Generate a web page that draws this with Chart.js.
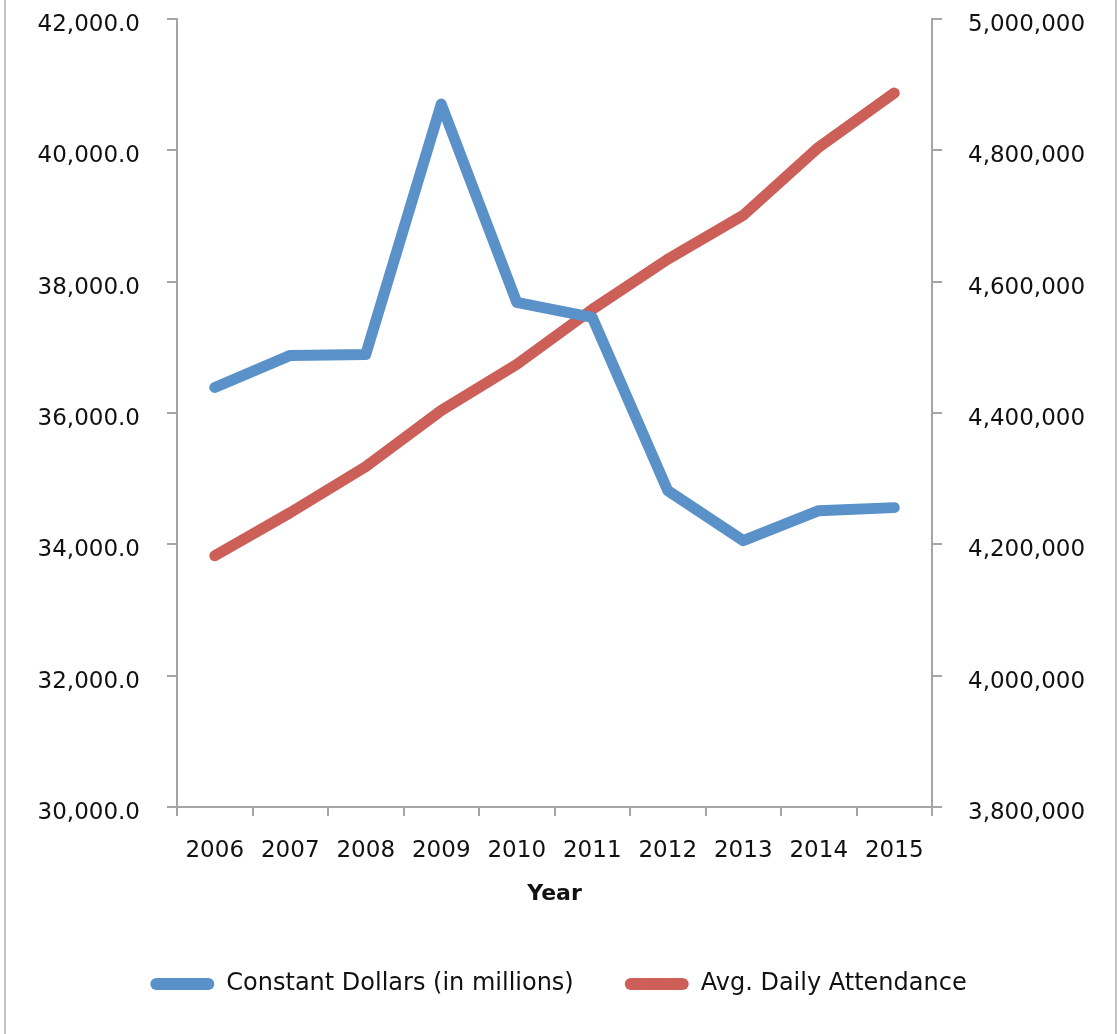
<!DOCTYPE html>
<html>
<head>
<meta charset="utf-8">
<script src="https://cdn.jsdelivr.net/npm/chart.js@4.4.1/dist/chart.umd.min.js"></script>
<style>
  html, body { margin: 0; padding: 0; background: #fff; overflow: hidden; }
  #wrap { position: relative; width: 1117px; height: 1034px; }
  #frame { position: absolute; left: 4px; top: -4px; width: 1113px; height: 1044px;
           border: 2px solid #c4c4c4; box-sizing: border-box; pointer-events: none; }
</style>
</head>
<body>
<div id="wrap">
  <canvas id="chart" width="1117" height="1034"></canvas>
  <div id="frame"></div>
</div>
<script>
// values
const years = ["2006", "2007", "2008", "2009", "2010", "2011", "2012", "2013", "2014", "2015"];
const constantDollars = [36389, 36877, 36892, 40704, 37685, 37456, 34818, 34056, 34513, 34559];
const dailyAttendance = [4182700, 4248300, 4318400, 4403800, 4474000, 4557800, 4634100, 4701200, 4804800, 4887200];
const leftTicks = [30000, 42000, 2000];
const rightTicks = [3800000, 5000000, 200000];

const axisGray = "#a5a5a5";
const fontFamily = "'DejaVu Sans', sans-serif";

const fmtLeft = (v) => v.toLocaleString("en-US", { minimumFractionDigits: 1, maximumFractionDigits: 1 });
const fmtRight = (v) => v.toLocaleString("en-US");

// tick padding would otherwise push the plot area down
const trimPadding = (scale, width) => {
  scale.width = width;
  scale.paddingTop = 14;
  scale.paddingBottom = 14;
};

const ctx = document.getElementById("chart").getContext("2d");
new Chart(ctx, {
  type: "line",
  data: {
    labels: years,
    datasets: [
      {
        label: "Constant Dollars (in millions)",
        data: constantDollars,
        yAxisID: "yLeft",
        borderColor: "#5a91c9",
        backgroundColor: "#5a91c9",
        borderWidth: 11,
        borderCapStyle: "round",
        borderJoinStyle: "round",
        pointRadius: 0,
        tension: 0,
      },
      {
        label: "Avg. Daily Attendance",
        data: dailyAttendance,
        yAxisID: "yRight",
        borderColor: "#cc6058",
        backgroundColor: "#cc6058",
        borderWidth: 11,
        borderCapStyle: "round",
        borderJoinStyle: "round",
        pointRadius: 0,
        tension: 0,
      },
    ],
  },
  options: {
    responsive: false,
    animation: false,
    layout: { padding: { top: 19, left: 0, right: 0, bottom: 28 } },
    plugins: {
      tooltip: { enabled: false },
      legend: {
        position: "bottom",
        labels: {
          boxWidth: 64,
          boxHeight: 12,
          padding: 51,
          useBorderRadius: true,
          borderRadius: 6,
          color: "#111",
          font: { family: fontFamily, size: 24 },
          generateLabels: (chart) =>
            Chart.defaults.plugins.legend.labels.generateLabels(chart).map((item) => ({ ...item, lineWidth: 0 })),
        },
      },
    },
    scales: {
      x: {
        type: "category",
        offset: true,
        grid: { display: true, offset: true, drawOnChartArea: false, drawTicks: true,
                tickLength: 9, color: axisGray, lineWidth: 2 },
        border: { display: true, color: axisGray, width: 2 },
        ticks: { color: "#111", padding: 21, font: { family: fontFamily, size: 23 }, maxRotation: 0 },
        title: { display: true, text: "Year", color: "#111", padding: { top: 0, bottom: 14 },
                 font: { family: fontFamily, size: 22, weight: "bold" } },
        afterFit: (scale) => { scale.height = 114; },
      },
      yLeft: {
        position: "left",
        min: leftTicks[0],
        max: leftTicks[1],
        grid: { display: true, drawOnChartArea: false, drawTicks: true, tickLength: 10,
                color: axisGray, lineWidth: 2 },
        border: { display: true, color: axisGray, width: 2 },
        ticks: { stepSize: leftTicks[2], padding: 27, labelOffset: 6, color: "#111",
                 font: { family: fontFamily, size: 23 }, callback: fmtLeft },
        afterFit: (scale) => trimPadding(scale, 177),
      },
      yRight: {
        position: "right",
        min: rightTicks[0],
        max: rightTicks[1],
        grid: { display: true, drawOnChartArea: false, drawTicks: true, tickLength: 10,
                color: axisGray, lineWidth: 2 },
        border: { display: true, color: axisGray, width: 2 },
        ticks: { stepSize: rightTicks[2], padding: 26, labelOffset: 6, color: "#111",
                 font: { family: fontFamily, size: 23 }, callback: fmtRight },
        afterFit: (scale) => trimPadding(scale, 185),
      },
    },
  },
});
</script>
</body>
</html>
